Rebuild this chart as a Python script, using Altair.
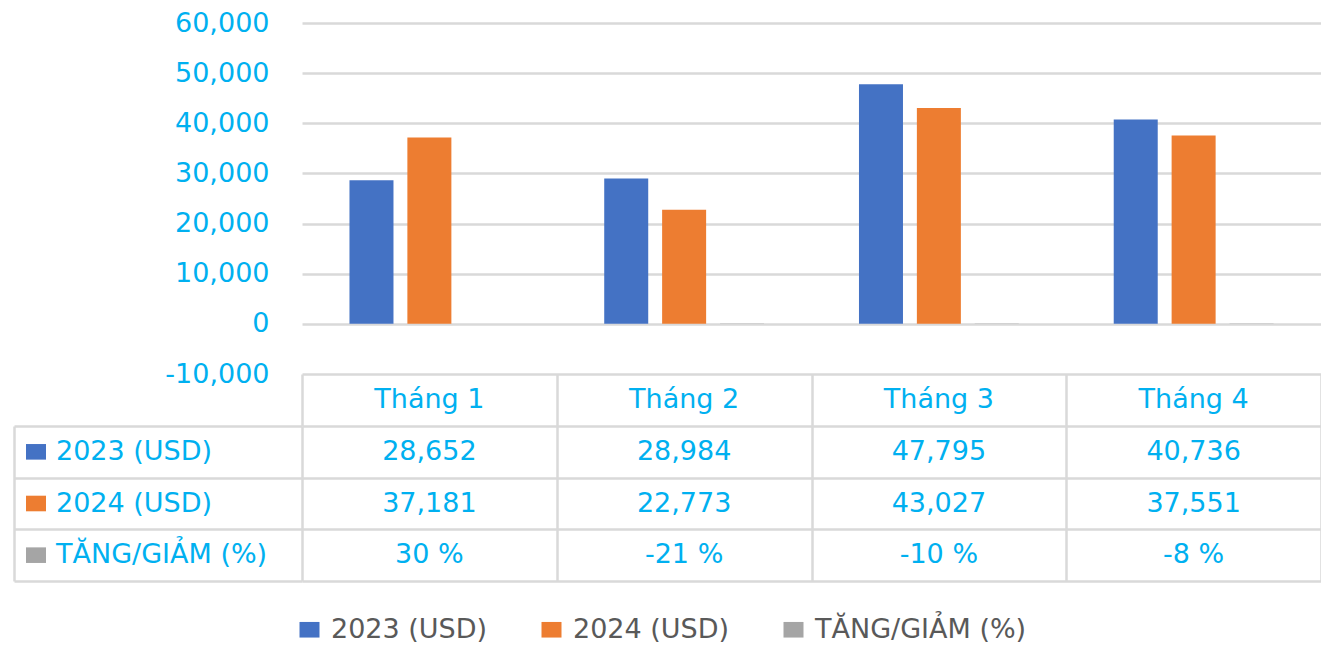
import altair as alt
import pandas as pd

months = ["Tháng 1", "Tháng 2", "Tháng 3", "Tháng 4"]
series = ["2023 (USD)", "2024 (USD)", "TĂNG/GIẢM (%)"]
v2023 = [28652, 28984, 47795, 40736]
v2024 = [37181, 22773, 43027, 37551]
pct = [30, -21, -10, -8]
colors = ["#4472C4", "#ED7D31", "#A5A5A5"]
y_ticks = [-10000, 0, 10000, 20000, 30000, 40000, 50000, 60000]

TXT = "#00B0F0"
GRID = "#D9D9D9"
FONT = "DejaVu Sans"
FS = 27
SQUARE = "M-1,-0.78H1V0.78H-1Z"

rows = []
for i, m in enumerate(months):
    for s, vals in zip(series, [v2023, v2024, pct]):
        v = vals[i]
        label = f"{v} %" if s == series[2] else f"{v:,}"
        rows.append({"month": m, "series": s, "value": v, "label": label})
df = pd.DataFrame(rows)
lab_df = pd.DataFrame({"series": series})
hdr_df = pd.DataFrame({"month": months})

LEFT_W = 288
MAIN_W = 1019
BAR_H = 351
HEAD_H = 52
BODY_H = 155

color_scale = alt.Scale(domain=series, range=colors)


def xenc():
    return alt.X("month:N", sort=months,
                 scale=alt.Scale(domain=months, paddingInner=0, paddingOuter=0),
                 axis=alt.Axis(title=None, labels=False, ticks=False, domain=False,
                               grid=True, tickBand="extent", gridColor=GRID, gridWidth=2.5))


bars = alt.Chart(df).mark_bar().encode(
    x=alt.X("month:N", sort=months,
            scale=alt.Scale(domain=months, paddingInner=0, paddingOuter=0), axis=None),
    xOffset=alt.XOffset("series:N", sort=series,
                        scale=alt.Scale(domain=series, paddingInner=0.24, paddingOuter=0.82)),
    y=alt.Y("value:Q",
            scale=alt.Scale(domain=[-10000, 60000], nice=False, zero=False),
            axis=alt.Axis(values=y_ticks, title=None, ticks=False, domain=False,
                          labelExpr="(datum.value < 0 ? '-' : '') + format(abs(datum.value), ',')",
                          labelFont=FONT, labelFontSize=FS, labelColor=TXT, labelPadding=33,
                          gridColor=GRID, gridWidth=2.5)),
    color=alt.Color("series:N", sort=series, scale=color_scale,
                    legend=alt.Legend(orient="none", legendX=282, legendY=593,
                                      direction="horizontal", title=None,
                                      symbolType=SQUARE, symbolSize=400,
                                      symbolStrokeWidth=0, symbolOpacity=1,
                                      labelFont=FONT, labelFontSize=FS, labelLimit=600,
                                      labelColor="#595959", labelOffset=8,
                                      columnPadding=50, padding=0)),
).properties(width=MAIN_W, height=BAR_H)

header = alt.Chart(hdr_df).mark_text(font=FONT, fontSize=FS, color=TXT).encode(
    x=xenc(),
    text="month:N",
).properties(width=MAIN_W, height=HEAD_H)

body = alt.Chart(df).mark_text(font=FONT, fontSize=FS, color=TXT).encode(
    x=xenc(),
    y=alt.Y("series:N", sort=series,
            scale=alt.Scale(domain=series, paddingInner=0, paddingOuter=0),
            axis=alt.Axis(title=None, labels=False, ticks=False, domain=False,
                          grid=True, tickBand="extent", gridColor=GRID, gridWidth=2.5)),
    text="label:N",
).properties(width=MAIN_W, height=BODY_H)

row_y = alt.Y("series:N", sort=series,
              scale=alt.Scale(domain=series, paddingInner=0, paddingOuter=0),
              axis=alt.Axis(title=None, labels=False, ticks=False, domain=True,
                            domainColor=GRID, domainWidth=2.5,
                            grid=True, tickBand="extent", gridColor=GRID, gridWidth=2.5))

row_sq = alt.Chart(lab_df).mark_point(
    shape=SQUARE, size=400, filled=True, opacity=1, strokeWidth=0
).encode(
    x=alt.value(22),
    y=row_y,
    color=alt.Color("series:N", sort=series, scale=color_scale, legend=None),
)
row_txt = alt.Chart(lab_df).mark_text(font=FONT, fontSize=FS, color=TXT, align="left").encode(
    x=alt.value(42),
    y=row_y,
    text="series:N",
)
row_labels = alt.layer(row_sq, row_txt).properties(width=LEFT_W, height=BODY_H)

spacer_top = alt.Chart(pd.DataFrame({"a": [0]})).mark_text(text="").properties(
    width=LEFT_W, height=BAR_H)
spacer_mid = alt.Chart(pd.DataFrame({"a": [0]})).mark_text(text="").properties(
    width=LEFT_W, height=HEAD_H)

chart = alt.concat(
    spacer_top, bars, spacer_mid, header, row_labels, body,
    columns=2, spacing=0, bounds="flush",
).resolve_scale(color="shared").configure_view(stroke=None).properties(
    padding={"left": 6, "top": 1, "right": 0, "bottom": 0}
)

chart.save("out.html", embed_options={"renderer": "svg", "actions": False})
